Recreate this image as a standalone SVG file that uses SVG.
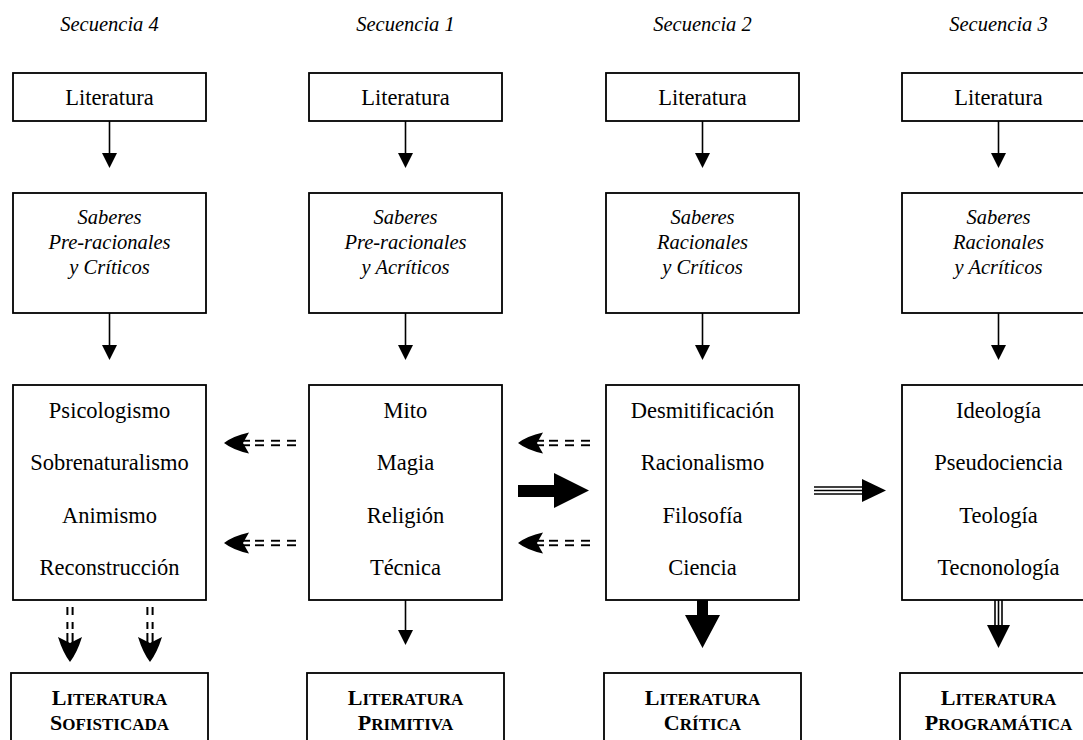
<svg xmlns="http://www.w3.org/2000/svg" xmlns:xlink="http://www.w3.org/1999/xlink" width="1083" height="740" viewBox="0 0 1083 740">
<style>
.box{fill:#fff;stroke:#000;stroke-width:1.8}
.t{font-family:"Liberation Serif","Times New Roman",serif;font-size:22.5px;fill:#000;text-anchor:middle}
.i{font-family:"Liberation Serif","Times New Roman",serif;font-size:20.5px;font-style:italic;fill:#000;text-anchor:middle}
.b{font-family:"Liberation Serif","Times New Roman",serif;font-size:17px;font-weight:bold;fill:#000;text-anchor:middle}
.b .cap{font-size:22px}
.ln{stroke:#000;stroke-width:1.6;fill:none}
.f{fill:#000}
</style>
<defs>
<g id="dashLeft">
<path class="f" d="M0,0 Q9,-7 25,-10.5 L19,0 L25,10.5 Q9,7 0,0 Z"/>
<rect class="f" x="14" y="-3.2" width="12" height="1.9"/>
<rect class="f" x="14" y="1.3" width="12" height="1.9"/>
<rect class="f" x="31" y="-3.2" width="9" height="1.9"/>
<rect class="f" x="31" y="1.3" width="9" height="1.9"/>
<rect class="f" x="47" y="-3.2" width="9" height="1.9"/>
<rect class="f" x="47" y="1.3" width="9" height="1.9"/>
<rect class="f" x="63" y="-3.2" width="9" height="1.9"/>
<rect class="f" x="63" y="1.3" width="9" height="1.9"/>
</g>
<g id="dashDown">
<path class="f" d="M0,0 Q-7,-9 -12,-25 L0,-19 L12,-25 Q7,-9 0,0 Z"/>
<rect class="f" x="-3.6" y="-29" width="2" height="13"/>
<rect class="f" x="1.6" y="-29" width="2" height="13"/>
<rect class="f" x="-3.6" y="-40" width="2" height="7"/>
<rect class="f" x="1.6" y="-40" width="2" height="7"/>
<rect class="f" x="-3.6" y="-55" width="2" height="8"/>
<rect class="f" x="1.6" y="-55" width="2" height="8"/>
</g>
</defs>

<g id="titles">
<text class="i" x="109.5" y="31">Secuencia 4</text>
<text class="i" x="405.5" y="31">Secuencia 1</text>
<text class="i" x="702.5" y="31">Secuencia 2</text>
<text class="i" x="998.5" y="31">Secuencia 3</text>
</g>

<!-- Column 1: Secuencia 4 -->
<g id="s4-literatura"><rect class="box" x="13" y="73" width="193" height="48"/><text class="t" x="109.5" y="105">Literatura</text></g>
<g id="s4-saberes"><rect class="box" x="13" y="193" width="193" height="120"/>
<text class="i" x="109.5" y="224">Saberes</text><text class="i" x="109.5" y="249">Pre-racionales</text><text class="i" x="109.5" y="274">y Críticos</text></g>
<g id="s4-items"><rect class="box" x="13" y="385" width="193" height="215"/>
<text class="t" x="109.5" y="418">Psicologismo</text><text class="t" x="109.5" y="470">Sobrenaturalismo</text><text class="t" x="109.5" y="523">Animismo</text><text class="t" x="109.5" y="575">Reconstrucción</text></g>
<g id="s4-result"><rect class="box" x="11" y="673" width="197" height="80"/>
<text class="b" x="109.5" y="705"><tspan class="cap">L</tspan>ITERATURA</text><text class="b" x="109.5" y="730"><tspan class="cap">S</tspan>OFISTICADA</text></g>

<!-- Column 2: Secuencia 1 -->
<g id="s1-literatura"><rect class="box" x="309" y="73" width="193" height="48"/><text class="t" x="405.5" y="105">Literatura</text></g>
<g id="s1-saberes"><rect class="box" x="309" y="193" width="193" height="120"/>
<text class="i" x="405.5" y="224">Saberes</text><text class="i" x="405.5" y="249">Pre-racionales</text><text class="i" x="405.5" y="274">y Acríticos</text></g>
<g id="s1-items"><rect class="box" x="309" y="385" width="193" height="215"/>
<text class="t" x="405.5" y="418">Mito</text><text class="t" x="405.5" y="470">Magia</text><text class="t" x="405.5" y="523">Religión</text><text class="t" x="405.5" y="575">Técnica</text></g>
<g id="s1-result"><rect class="box" x="307" y="673" width="197" height="80"/>
<text class="b" x="405.5" y="705"><tspan class="cap">L</tspan>ITERATURA</text><text class="b" x="405.5" y="730"><tspan class="cap">P</tspan>RIMITIVA</text></g>

<!-- Column 3: Secuencia 2 -->
<g id="s2-literatura"><rect class="box" x="606" y="73" width="193" height="48"/><text class="t" x="702.5" y="105">Literatura</text></g>
<g id="s2-saberes"><rect class="box" x="606" y="193" width="193" height="120"/>
<text class="i" x="702.5" y="224">Saberes</text><text class="i" x="702.5" y="249">Racionales</text><text class="i" x="702.5" y="274">y Críticos</text></g>
<g id="s2-items"><rect class="box" x="606" y="385" width="193" height="215"/>
<text class="t" x="702.5" y="418">Desmitificación</text><text class="t" x="702.5" y="470">Racionalismo</text><text class="t" x="702.5" y="523">Filosofía</text><text class="t" x="702.5" y="575">Ciencia</text></g>
<g id="s2-result"><rect class="box" x="604" y="673" width="197" height="80"/>
<text class="b" x="702.5" y="705"><tspan class="cap">L</tspan>ITERATURA</text><text class="b" x="702.5" y="730"><tspan class="cap">C</tspan>RÍTICA</text></g>

<!-- Column 4: Secuencia 3 -->
<g id="s3-literatura"><rect class="box" x="902" y="73" width="193" height="48"/><text class="t" x="998.5" y="105">Literatura</text></g>
<g id="s3-saberes"><rect class="box" x="902" y="193" width="193" height="120"/>
<text class="i" x="998.5" y="224">Saberes</text><text class="i" x="998.5" y="249">Racionales</text><text class="i" x="998.5" y="274">y Acríticos</text></g>
<g id="s3-items"><rect class="box" x="902" y="385" width="193" height="215"/>
<text class="t" x="998.5" y="418">Ideología</text><text class="t" x="998.5" y="470">Pseudociencia</text><text class="t" x="998.5" y="523">Teología</text><text class="t" x="998.5" y="575">Tecnonología</text></g>
<g id="s3-result"><rect class="box" x="900" y="673" width="197" height="80"/>
<text class="b" x="998.5" y="705"><tspan class="cap">L</tspan>ITERATURA</text><text class="b" x="998.5" y="730"><tspan class="cap">P</tspan>ROGRAMÁTICA</text></g>

<g id="connectors">
<line class="ln" x1="109.5" y1="121" x2="109.5" y2="155"/><path class="f" d="M102,153 L117,153 L109.5,168 Z"/>
<line class="ln" x1="405.5" y1="121" x2="405.5" y2="155"/><path class="f" d="M398,153 L413,153 L405.5,168 Z"/>
<line class="ln" x1="702.5" y1="121" x2="702.5" y2="155"/><path class="f" d="M695,153 L710,153 L702.5,168 Z"/>
<line class="ln" x1="998.5" y1="121" x2="998.5" y2="155"/><path class="f" d="M991,153 L1006,153 L998.5,168 Z"/>
<line class="ln" x1="109.5" y1="313" x2="109.5" y2="347"/><path class="f" d="M102,345 L117,345 L109.5,360 Z"/>
<line class="ln" x1="405.5" y1="313" x2="405.5" y2="347"/><path class="f" d="M398,345 L413,345 L405.5,360 Z"/>
<line class="ln" x1="702.5" y1="313" x2="702.5" y2="347"/><path class="f" d="M695,345 L710,345 L702.5,360 Z"/>
<line class="ln" x1="998.5" y1="313" x2="998.5" y2="347"/><path class="f" d="M991,345 L1006,345 L998.5,360 Z"/>
<line class="ln" x1="405.5" y1="600" x2="405.5" y2="632"/><path class="f" d="M398,630 L413,630 L405.5,645 Z"/>
<path class="f" d="M697,600 L708,600 L708,615 L720,615 L702.5,648 L685,615 L697,615 Z"/>
<line class="ln" x1="995" y1="600" x2="995" y2="627" stroke-width="1.4"/>
<line class="ln" x1="998.5" y1="600" x2="998.5" y2="627" stroke-width="1.4"/>
<line class="ln" x1="1002" y1="600" x2="1002" y2="627" stroke-width="1.4"/>
<path class="f" d="M987,625 L1010,625 L998.5,648 Z"/>
<path class="f" d="M518,485 L554,485 L554,473 L589,490.5 L554,508 L554,497 L518,497 Z"/>
<line class="ln" x1="814" y1="487" x2="864" y2="487" stroke-width="1.4"/>
<line class="ln" x1="814" y1="490.5" x2="864" y2="490.5" stroke-width="1.4"/>
<line class="ln" x1="814" y1="494" x2="864" y2="494" stroke-width="1.4"/>
<path class="f" d="M862,479 L886,490.5 L862,502 Z"/>
<use xlink:href="#dashLeft" href="#dashLeft" transform="translate(224,443)"/>
<use xlink:href="#dashLeft" href="#dashLeft" transform="translate(224,543)"/>
<use xlink:href="#dashLeft" href="#dashLeft" transform="translate(518,443)"/>
<use xlink:href="#dashLeft" href="#dashLeft" transform="translate(518,543)"/>
<use xlink:href="#dashDown" href="#dashDown" transform="translate(70,662)"/>
<use xlink:href="#dashDown" href="#dashDown" transform="translate(150,662)"/>
</g>
</svg>
